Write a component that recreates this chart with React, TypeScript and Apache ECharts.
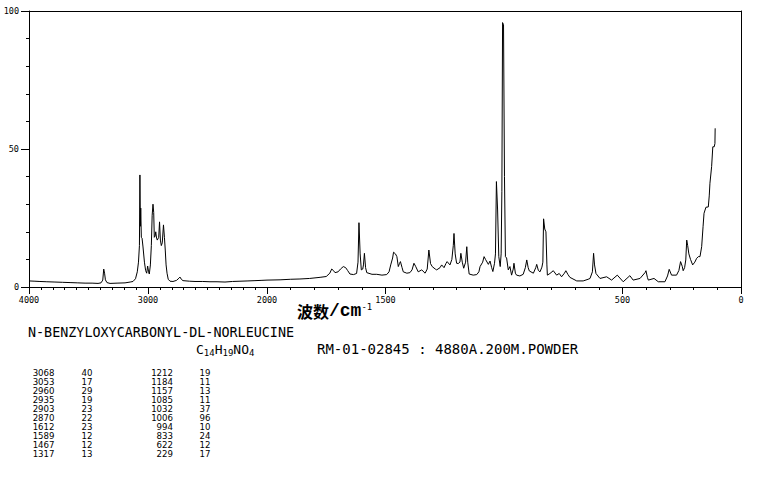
import React, { useEffect, useRef } from "react";
import * as echarts from "echarts";

// Raman spectrum (wavenumber cm-1, relative intensity %)
const wavenumbers = [
  4000, 3950, 3908, 3850, 3782, 3720, 3655, 3590, 3529, 3470, 3420, 3395, 3380, 3372, 3365, 3358, 3345, 3319,
  3260, 3193, 3150, 3126, 3105, 3090, 3080, 3072, 3068, 3064, 3061, 3056, 3050, 3042, 3030, 3020, 3011, 3003,
  2995, 2989, 2980, 2972, 2965, 2958, 2952, 2947, 2940, 2935, 2928, 2922, 2910, 2903, 2896, 2888, 2880, 2870,
  2862, 2855, 2848, 2840, 2830, 2815, 2790, 2760, 2740, 2731, 2720, 2706, 2650, 2605, 2540, 2479, 2420, 2353,
  2290, 2227, 2160, 2101, 2050, 2000,
  1945, 1900, 1861, 1820, 1776, 1750, 1735, 1727, 1720, 1713, 1700, 1690, 1678, 1668, 1660, 1650, 1635, 1622,
  1616, 1612, 1607, 1602, 1596, 1593, 1589, 1584, 1579, 1557, 1537, 1515, 1495, 1485, 1478, 1470, 1466, 1458,
  1452, 1446, 1441, 1437, 1430, 1425, 1410, 1397, 1388, 1380, 1373, 1362, 1347, 1333, 1324, 1317, 1310, 1303,
  1290, 1284, 1270, 1263, 1253, 1245, 1240, 1228, 1220, 1214, 1211, 1206, 1200, 1193, 1186, 1182, 1176, 1170,
  1162, 1157, 1153, 1147, 1130, 1115, 1106, 1101, 1090, 1084, 1078, 1066, 1059, 1052, 1047, 1040, 1036, 1032,
  1027, 1022, 1016, 1012, 1009, 1006, 1002, 998, 994, 989, 982, 975, 968, 961, 958, 952, 947, 933, 919, 910,
  904, 898, 893, 876, 866, 862, 855, 848, 840, 836, 833, 828, 823, 819, 817, 806, 792, 778, 767, 757, 745, 739,
  730, 722, 693, 666, 645, 637, 627, 622, 618, 612, 595, 567, 546, 522, 497, 469, 455, 426, 405, 401, 395, 391,
  367, 349, 321, 310, 303, 293, 272, 262, 255, 248, 244, 238, 233, 229, 225, 220, 213, 204, 195, 187, 180, 173,
  166, 160, 156, 148, 138, 134, 131, 124, 119, 113, 110, 109,
];
const intensities = [
  2.2, 2.1, 2.0, 1.9, 1.8, 1.7, 1.6, 1.5, 1.4, 1.4, 1.3, 1.5, 2.5, 6.5, 5.0, 2.6, 1.6, 1.3,
  1.4, 1.5, 1.8, 2.0, 3.0, 5.5, 9, 15, 40.6, 22, 28.6, 18, 17.7, 14.5, 9, 6, 5, 7.6,
  5.5, 4.7, 8, 15, 26, 30, 27, 18, 18.5, 20, 17.7, 17, 18, 23.6, 17, 15, 16, 22.5,
  18, 13.4, 8, 5, 2.8, 2.1, 2.0, 2.4, 3.2, 3.6, 2.8, 2.3, 2.1, 2.0, 2.0, 1.9, 1.9, 1.8,
  2.0, 2.1, 2.2, 2.3, 2.4, 2.5,
  2.6, 2.8, 2.9, 3.1, 3.5, 3.8, 5, 6.5, 6.0, 5.2, 5.5, 6.5, 7.4, 7.0, 6, 4.7, 4.5, 4.9,
  9, 23.3, 12, 6.2, 6.5, 8, 12.2, 7, 5.2, 4.6, 4.6, 4.3, 4.5, 5.5, 8, 10.5, 12.6, 12,
  11, 7.4, 8.5, 9.2, 7, 5.5, 5.0, 5.2, 6.2, 8.6, 7.5, 5.5, 6.2, 5, 6.5, 13.4, 8.5, 7.4,
  6.5, 6.2, 7, 8.0, 7, 8.5, 9.2, 8.0, 10, 15, 19.4, 12, 8.6, 8.5, 9, 12.2, 9, 6.8,
  9, 14.6, 9, 4.7, 4.3, 4.5, 5.5, 7.4, 9, 11, 10, 8.2, 9.4, 7, 5.6, 8.6, 12, 38.2,
  27.9, 11, 7.4, 12, 34.5, 95.8, 95, 40, 11, 10.5, 6.2, 7.4, 4.3, 6.5, 8.6, 5, 4.3, 4, 4.6, 7,
  9.8, 7, 5.8, 5, 7, 8.2, 6, 5.5, 7.2, 9, 24.7, 21, 20, 8, 4.3, 4.9, 5.9, 4.3, 4.9, 3.7, 5, 5.9,
  4.5, 3.5, 2.2, 2.2, 2.8, 3.1, 5.5, 12.2, 8, 4.9, 3.1, 3.7, 2.5, 4.3, 1.9, 4.1, 2.5, 3.1, 5.2, 5.9, 3.5, 2.5,
  3.1, 1.9, 1.9, 4, 6.4, 4.3, 4.3, 6, 9.2, 7.5, 5.9, 7, 9.8, 17, 15, 12, 10, 8, 9, 10.4, 11, 11,
  14.6, 22, 26.7, 28.9, 29, 33, 37.6, 43.6, 50.8, 50.8, 52, 57.5,
];

// Peak table
const peakWaveA = [3068, 3053, 2960, 2935, 2903, 2870, 1612, 1589, 1467, 1317];
const peakIntA = [40, 17, 29, 19, 23, 22, 23, 12, 12, 13];
const peakWaveB = [1212, 1184, 1157, 1085, 1032, 1006, 994, 833, 622, 229];
const peakIntB = [19, 11, 13, 11, 37, 96, 10, 24, 12, 17];

// Axis labels
const xLabelsHigh = [4000, 3000];
const xLabelsLow = [2000, 1500, 500, 0];

const compoundName = "N-BENZYLOXYCARBONYL-DL-NORLEUCINE";
const sampleInfo = "RM-01-02845 : 4880A.200M.POWDER";

const MONO = "DejaVu Sans Mono";

export default function App() {
  const ref = useRef<HTMLDivElement>(null);

  useEffect(() => {
    const chart = echarts.init(ref.current!, null, { renderer: "svg" });
    const pairs = wavenumbers.map((w, i) => [w, intensities[i]]);
    const high = pairs.filter((p) => p[0] >= 2000);
    const low = pairs.filter((p) => p[0] <= 2000);

    const axisLabelStyle = {
      color: "#000",
      fontFamily: MONO,
      fontSize: 8.5,
      formatter: (v: number) => String(v),
    };
    const line = { lineStyle: { color: "#000", width: 1 } };

    const tableTexts: any[] = [];
    const rowY0 = 372.7;
    const rowStep = 9.07;
    const tStyle = { fill: "#000", fontFamily: "DejaVu Sans", fontSize: 8.6, lineHeight: 8.6 };
    const mk = (x: number, y: number, text: string, align: string) => ({
      type: "text", x, y,
      style: { ...tStyle, text, align, textAlign: align, verticalAlign: "middle", textVerticalAlign: "middle" },
    });
    peakWaveA.forEach((w, i) => {
      const y = rowY0 + i * rowStep;
      tableTexts.push(mk(54.5, y, String(w), "right"));
      tableTexts.push(mk(81.5, y, String(peakIntA[i]), "left"));
      tableTexts.push(mk(173, y, String(peakWaveB[i]), "right"));
      tableTexts.push(mk(199.5, y, String(peakIntB[i]), "left"));
    });

    const option: any = {
      animation: false,
      backgroundColor: "#fff",
      grid: [
        { left: 29, top: 11, width: 238, height: 276 },
        { left: 267, top: 11, width: 474, height: 276 },
      ],
      xAxis: [
        {
          gridIndex: 0, type: "value", min: 2000, max: 4000, inverse: true, interval: 100, position: "bottom",
          axisLine: { show: true, ...line }, axisTick: { show: true, length: 3, ...line },
          axisLabel: { show: false }, splitLine: { show: false },
        },
        {
          gridIndex: 0, type: "value", min: 2000, max: 4000, inverse: true, interval: 100, position: "bottom", offset: 0,
          axisLine: { show: false },
          axisTick: { show: true, length: 7, customValues: xLabelsHigh, ...line },
          axisLabel: { ...axisLabelStyle, margin: 8, customValues: xLabelsHigh, showMinLabel: true, showMaxLabel: true },
          splitLine: { show: false },
        },
        {
          gridIndex: 1, type: "value", min: 0, max: 2000, inverse: true, interval: 100, position: "bottom",
          axisLine: { show: true, ...line }, axisTick: { show: true, length: 3, ...line },
          axisLabel: { show: false }, splitLine: { show: false },
        },
        {
          gridIndex: 1, type: "value", min: 0, max: 2000, inverse: true, interval: 100, position: "bottom", offset: 0,
          axisLine: { show: false },
          axisTick: { show: true, length: 7, customValues: xLabelsLow, ...line },
          axisLabel: { ...axisLabelStyle, margin: 8, customValues: xLabelsLow, showMinLabel: true, showMaxLabel: true },
          splitLine: { show: false },
        },
        {
          gridIndex: 0, type: "value", min: 2000, max: 4000, inverse: true, position: "top",
          axisLine: { show: true, onZero: false, ...line }, axisTick: { show: false }, axisLabel: { show: false }, splitLine: { show: false },
        },
        {
          gridIndex: 1, type: "value", min: 0, max: 2000, inverse: true, position: "top",
          axisLine: { show: true, onZero: false, ...line }, axisTick: { show: false }, axisLabel: { show: false }, splitLine: { show: false },
        },
      ],
      yAxis: [
        {
          gridIndex: 0, type: "value", min: 0, max: 100, interval: 50, position: "left",
          axisLine: { show: true, onZero: false, ...line },
          axisTick: { show: true, length: 8, ...line },
          minorTick: { show: true, splitNumber: 5, length: 3, ...line },
          axisLabel: { ...axisLabelStyle, margin: 10 },
          splitLine: { show: false }, minorSplitLine: { show: false },
        },
        {
          gridIndex: 1, type: "value", min: 0, max: 100, position: "right",
          axisLine: { show: true, onZero: false, ...line }, axisTick: { show: false }, axisLabel: { show: false }, splitLine: { show: false },
        },
      ],
      series: [
        {
          type: "line", xAxisIndex: 0, yAxisIndex: 0, data: high, showSymbol: false, symbol: "none",
          lineStyle: { color: "#000", width: 1 }, silent: true,
        },
        {
          type: "line", xAxisIndex: 2, yAxisIndex: 1, data: low, showSymbol: false, symbol: "none",
          lineStyle: { color: "#000", width: 1 }, silent: true,
        },
      ],
      graphic: {
        elements: [
          {
            type: "text", x: 297, y: 302,
            style: {
              text: "{cn|波数}{en|/cm}{sup|-1}",
              fill: "#000",
              rich: {
                cn: { fontFamily: "Noto Sans CJK SC", fontWeight: "bold", fontSize: 16, lineHeight: 18, fill: "#000" },
                en: { fontFamily: "Liberation Mono", fontWeight: "bold", fontSize: 18, lineHeight: 18, fill: "#000" },
                sup: { fontFamily: MONO, fontSize: 9, lineHeight: 9, verticalAlign: "top", fill: "#000" },
              },
            },
          },
          {
            type: "text", x: 28, y: 332.5,
            style: { text: compoundName, fill: "#000", fontFamily: MONO, fontSize: 13.4, verticalAlign: "middle", textVerticalAlign: "middle" },
          },
          {
            type: "text", x: 196, y: 341,
            style: {
              text: "{m|C}{s|14}{m|H}{s|19}{m|NO}{s|4}",
              fill: "#000",
              rich: {
                m: { fontFamily: MONO, fontSize: 13, lineHeight: 16, fill: "#000" },
                s: { fontFamily: MONO, fontSize: 9, lineHeight: 10, verticalAlign: "bottom", fill: "#000" },
              },
            },
          },
          {
            type: "text", x: 317, y: 349,
            style: { text: sampleInfo, fill: "#000", fontFamily: MONO, fontSize: 14, verticalAlign: "middle", textVerticalAlign: "middle" },
          },
          ...tableTexts,
        ],
      },
    };
    chart.setOption(option);
    return () => chart.dispose();
  }, []);

  return (
    <div
      ref={ref}
      style={{ position: "absolute", left: 0, top: 0, width: 765, height: 482, background: "#fff" }}
    />
  );
}
